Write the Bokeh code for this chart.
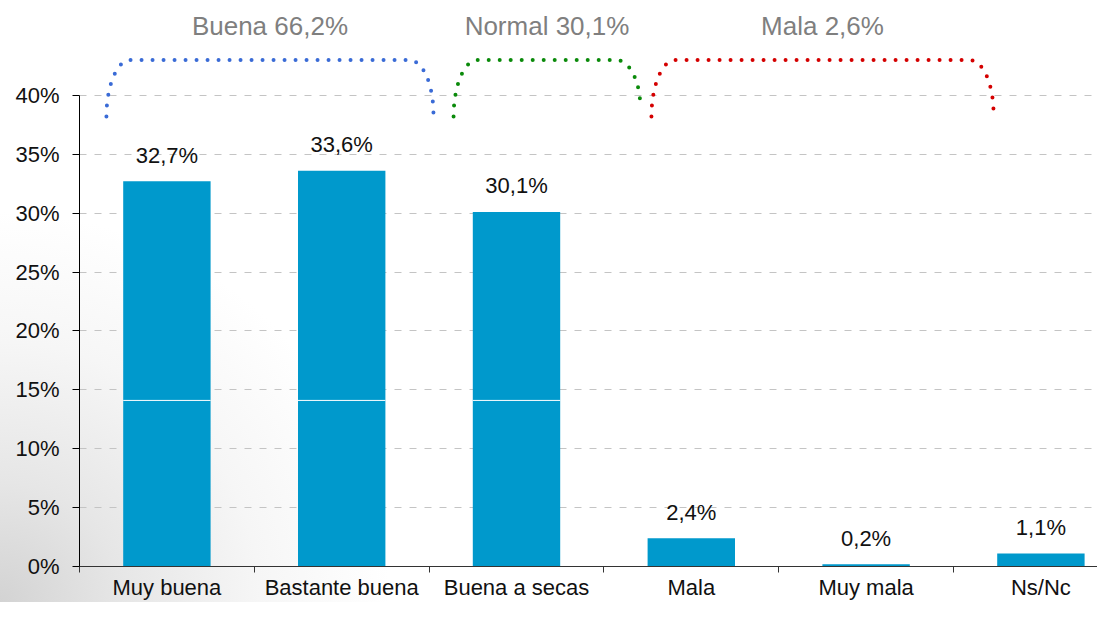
import numpy as np
from bokeh.plotting import figure
from bokeh.models import FixedTicker, PrintfTickFormatter, Range1d
from bokeh.core.properties import value
from bokeh.embed import file_html
from bokeh.resources import INLINE

# ---------------- data ----------------
categories = ["Muy buena", "Bastante buena", "Buena a secas", "Mala", "Muy mala", "Ns/Nc"]
percent = [32.7, 33.6, 30.1, 2.4, 0.2, 1.1]
seam_level = [14.1, 14.1, 14.1]          # thin white seam visible in first three bars
group_labels = ["Buena 66,2%", "Normal 30,1%", "Mala 2,6%"]
group_first = [0, 2, 3]                   # first category index of each group
group_last = [1, 2, 4]                    # last category index of each group
y_ticks = [0, 5, 10, 15, 20, 25, 30, 35, 40]

# ---------------- layout / style ----------------
FONT = value("Liberation Sans")
BAR = "#0099cc"
brace_colors = ["#3a6bd6", "#0a8a0a", "#d40000"]
brace_pad_left = [-0.346, -0.36, -0.228]
brace_pad_right = [0.525, 0.709, 0.729]
brace_end_left = [38.2, 38.2, 38.2]
brace_end_right = [38.4, 38.9, 38.5]
brace_top = 43.0
brace_rx = 0.137

W, H = 1097, 602
LEFT, BOTTOM = 79, 35
PX_PER_CAT = 174.8
PX_PER_PCT = 11.8

x = np.arange(len(categories))

p = figure(width=W, height=H,
           x_range=Range1d(-0.5, -0.5 + (W - LEFT) / PX_PER_CAT),
           y_range=Range1d(0, (H - BOTTOM) / PX_PER_PCT),
           output_backend="svg", toolbar_location=None,
           min_border_left=LEFT, min_border_right=0, min_border_top=0, min_border_bottom=BOTTOM)

p.background_fill_alpha = 0
p.border_fill_alpha = 0
p.outline_line_color = None
p.styles = {"background-image":
            "radial-gradient(circle at 0% 100%, #d3d3d3 0px, #e6e6e6 120px, #f6f6f6 260px, #ffffff 390px)"}

# bars
p.vbar(x=x, top=percent, width=0.5, fill_color=BAR, line_color=None)
xs = x[:len(seam_level)]
p.segment(x0=xs - 0.25, x1=xs + 0.25, y0=seam_level, y1=seam_level, line_color="white", line_width=1)

# value labels
val_text = [f"{v:.1f}".replace(".", ",") + "%" for v in percent]
p.text(x=x, y=percent, text=val_text, text_align="center", text_baseline="alphabetic",
       y_offset=-26, text_font=FONT, text_font_size="22px", text_color="#111111")

# braces
centers = []
for i in range(len(group_labels)):
    x0 = group_first[i] + brace_pad_left[i]
    x1 = group_last[i] + brace_pad_right[i]
    yl, yr = brace_end_left[i], brace_end_right[i]
    t1 = np.linspace(np.pi, np.pi / 2, 20)
    t2 = np.linspace(np.pi / 2, 0, 20)
    bx = np.concatenate([x0 + brace_rx + brace_rx * np.cos(t1),
                         x1 - brace_rx + brace_rx * np.cos(t2)])
    by = np.concatenate([yl + (brace_top - yl) * np.sin(t1),
                         yr + (brace_top - yr) * np.sin(t2)])
    p.line(bx, by, line_color=brace_colors[i], line_width=4, line_dash="0 11", line_cap="round")
    centers.append((x0 + x1) / 2)

p.text(x=centers, y=[brace_top + 2.9] * len(centers), text=group_labels,
       text_align="center", text_baseline="middle", text_font=FONT,
       text_font_size="26px", text_color="#7f7f7f")

# axes
p.xgrid.visible = False
p.ygrid.ticker = FixedTicker(ticks=y_ticks)
p.ygrid.grid_line_color = "#c4c4c4"
p.ygrid.grid_line_dash = "7 8"

yax = p.yaxis[0]
yax.ticker = FixedTicker(ticks=y_ticks)
yax.formatter = PrintfTickFormatter(format="%d%%")
yax.bounds = (0, 40)
yax.axis_line_color = "black"
yax.major_tick_out = 7
yax.major_tick_in = 0
yax.minor_tick_line_color = None
yax.major_label_standoff = 13
yax.major_label_text_font = "Liberation Sans"
yax.major_label_text_font_size = "22px"
yax.major_label_text_color = "#111111"

xax = p.xaxis[0]
xax.ticker = FixedTicker(ticks=list(x), minor_ticks=list(np.arange(-0.5, len(categories) + 0.5, 1.0)))
xax.major_label_overrides = {int(i): c for i, c in zip(x, categories)}
xax.major_tick_line_color = None
xax.major_tick_out = 6
xax.major_tick_in = 0
xax.minor_tick_out = 6
xax.minor_tick_in = 0
xax.minor_tick_line_color = "#333333"
xax.axis_line_color = "#333333"
xax.major_label_standoff = 2
xax.major_label_text_font = "Liberation Sans"
xax.major_label_text_font_size = "22px"
xax.major_label_text_color = "#111111"

open("out.html", "w").write(file_html(p, INLINE))
